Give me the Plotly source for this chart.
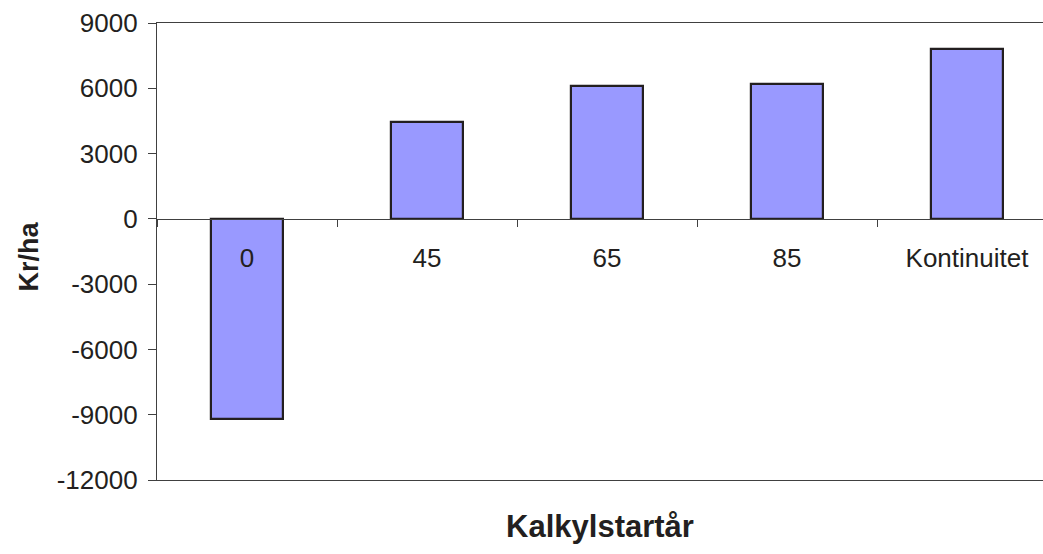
import plotly.graph_objects as go

# Result per calculation start year (Kr/ha)
categories = ["0", "45", "65", "85", "Kontinuitet"]
values = [-9200, 4450, 6100, 6200, 7800]

y_ticks = [-12000, -9000, -6000, -3000, 0, 3000, 6000, 9000]
y_min, y_max = -12000, 9000

FONT = "Liberation Sans, Arial, sans-serif"
TEXT = "#231f20"
AXIS = "#404040"

W, H = 1043, 554
M_L, M_R, M_T, M_B = 157, 0, 23, 74
cat_px = 180  # pixels per category slot
plot_w = W - M_L - M_R
plot_h = H - M_T - M_B
x_range = [-0.5, -0.5 + plot_w / cat_px]

fig = go.Figure()
fig.add_trace(go.Bar(
    x=categories,
    y=values,
    width=0.404,
    marker=dict(color="#9999ff", line=dict(color="#231f20", width=2.2)),
    showlegend=False,
))

zero_pos = (0 - y_min) / (y_max - y_min)

fig.update_layout(
    width=W, height=H,
    margin=dict(l=M_L, r=M_R, t=M_T, b=M_B, pad=0),
    paper_bgcolor="white",
    plot_bgcolor="white",
    font=dict(family=FONT, color=TEXT, size=26),
    bargap=0,
    xaxis=dict(
        type="category",
        range=x_range,
        anchor="free",
        position=zero_pos,
        showline=True, linecolor=AXIS, linewidth=1.3,
        ticks="outside", ticklen=7, tickwidth=1.3, tickcolor=AXIS,
        tickson="boundaries",
        showgrid=False, zeroline=False,
        tickfont=dict(size=26, family=FONT, color=TEXT),
        ticklabelstandoff=16,
    ),
    xaxis2=dict(
        type="category",
        overlaying="x",
        matches="x",
        anchor="y",
        side="bottom",
        showline=True, mirror=True, linecolor=AXIS, linewidth=1.3,
        ticks="", showticklabels=False, showgrid=False, zeroline=False,
        title=dict(text="<b>Kalkylstartår</b>", font=dict(size=31, family=FONT, color=TEXT), standoff=35),
    ),
    yaxis=dict(
        range=[y_min, y_max],
        tickvals=y_ticks,
        ticktext=[str(v) for v in y_ticks],
        showline=True, linecolor=AXIS, linewidth=1.3,
        ticks="outside", ticklen=8, tickwidth=1.3, tickcolor=AXIS,
        showgrid=False, zeroline=False,
        tickfont=dict(size=26, family=FONT, color=TEXT),
        ticklabelstandoff=5,
    ),
)

# y-axis title placed beside the tick labels
fig.add_annotation(
    text="<b>Kr/ha</b>", textangle=-90,
    xref="paper", yref="paper",
    x=(28 - M_L) / plot_w, y=1 - (256.5 - M_T) / plot_h,
    xanchor="center", yanchor="middle", showarrow=False,
    font=dict(size=27, family=FONT, color=TEXT),
)

# invisible trace to attach the framing axis
fig.add_trace(go.Scatter(x=categories, y=[None] * len(categories), xaxis="x2", yaxis="y",
                         showlegend=False, hoverinfo="skip"))

fig.write_html("out.html")
